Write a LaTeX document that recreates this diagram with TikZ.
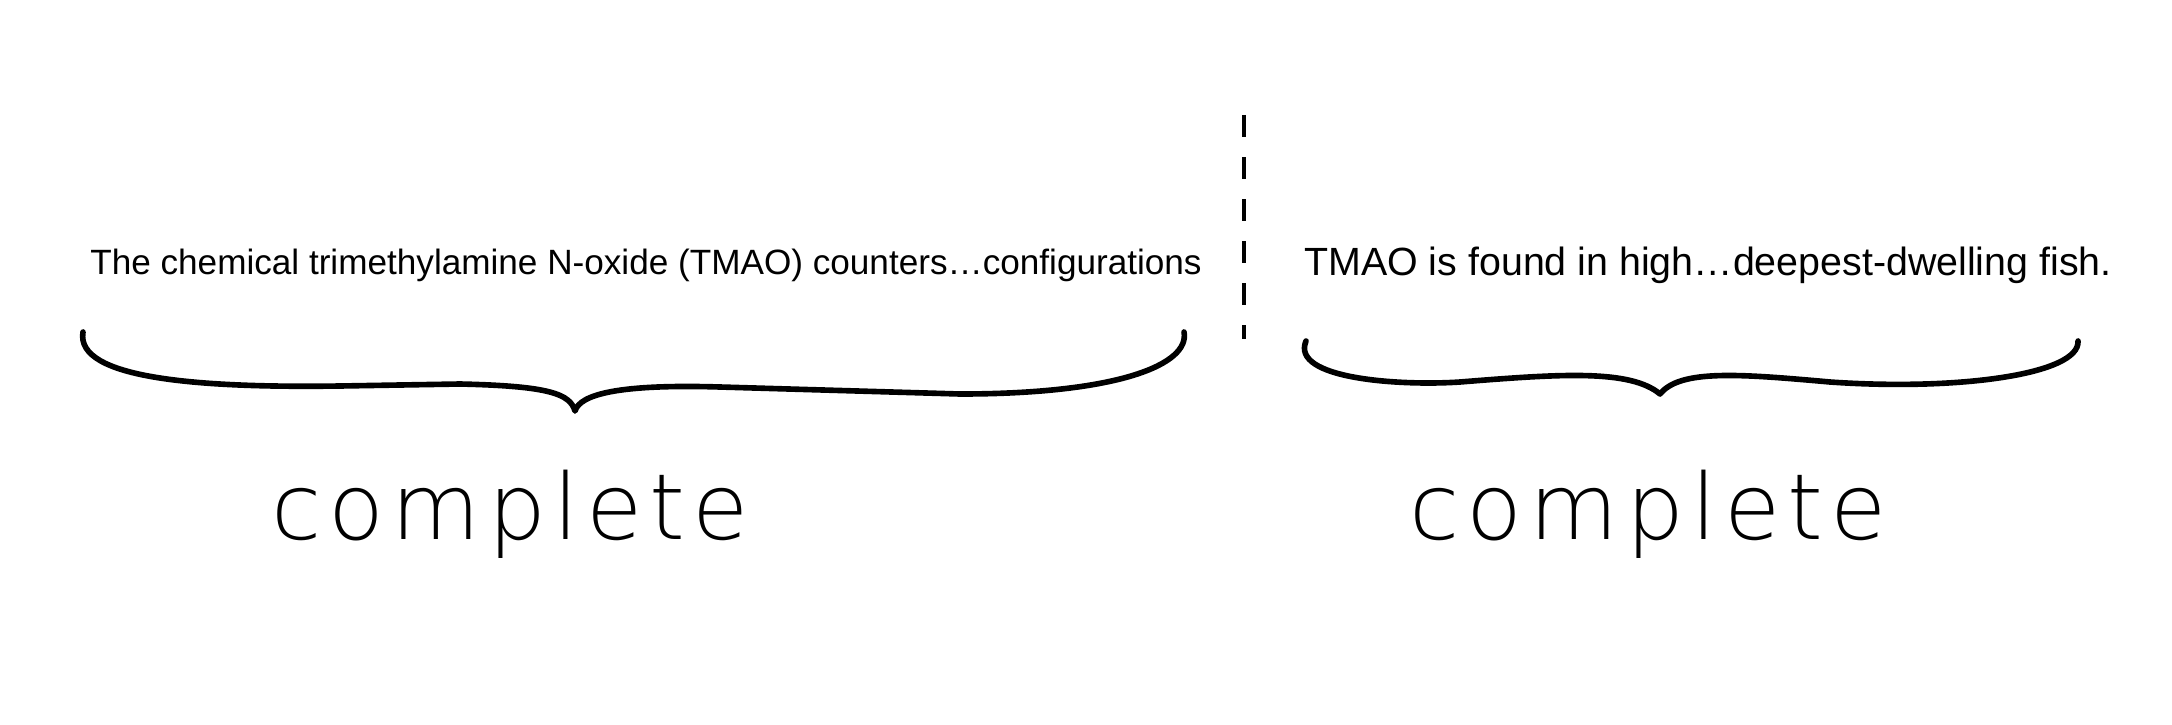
\documentclass[tikz,border=0pt]{standalone}
\usepackage{fontspec}
\setmainfont{Liberation Sans}
\newfontfamily\handfont[LetterSpace=8]{DejaVu Sans ExtraLight}
\usetikzlibrary{positioning}
\tikzset{
  clause/.style={font=\fontsize{10}{12}\selectfont, inner sep=0pt},
  verdict/.style={font=\handfont\fontsize{26}{31}\selectfont, inner sep=0pt},
  brace/.style={line width=1.6pt, line cap=round, line join=round}
}
\begin{document}
\begin{tikzpicture}
  \fill[white] (0,0) rectangle (21.72,7.24);
  \useasboundingbox (0,0) rectangle (21.72,7.24);

  %texts
  \node[clause] (left) at (6.46,4.59) {The chemical trimethylamine N-oxide (TMAO) counters\ldots configurations};
  \node[clause, font=\fontsize{11.2}{13}\selectfont] (right) at (17.08,4.59) {TMAO is found in high\ldots deepest-dwelling fish.};

  %divider
  \draw[line width=1.4pt, dash pattern=on 0.22cm off 0.2cm] (12.44,6.09) -- (12.44,3.85);

  %left brace
  \draw[brace] (0.83,3.92) .. controls (0.75,3.45) and (2,3.36) .. (3.4,3.38)
    -- (4.6,3.4) .. controls (5.5,3.38) and (5.7,3.3) .. (5.75,3.13)
    .. controls (5.8,3.3) and (6.2,3.4) .. (7.2,3.37)
    -- (9.6,3.3) .. controls (11.2,3.3) and (11.9,3.6) .. (11.84,3.92);

  %right brace
  \draw[brace] (13.06,3.83) .. controls (12.9,3.45) and (14,3.38) .. (14.6,3.42)
    .. controls (15.6,3.5) and (16.3,3.55) .. (16.6,3.3)
    .. controls (16.8,3.55) and (17.4,3.5) .. (18.3,3.42)
    .. controls (19.6,3.33) and (20.8,3.5) .. (20.78,3.83);

  %labels
  \node[verdict] (leftlab) at (5.1,2.1) {complete};
  \node[verdict] (rightlab) at (16.48,2.1) {complete};
\end{tikzpicture}
\end{document}
